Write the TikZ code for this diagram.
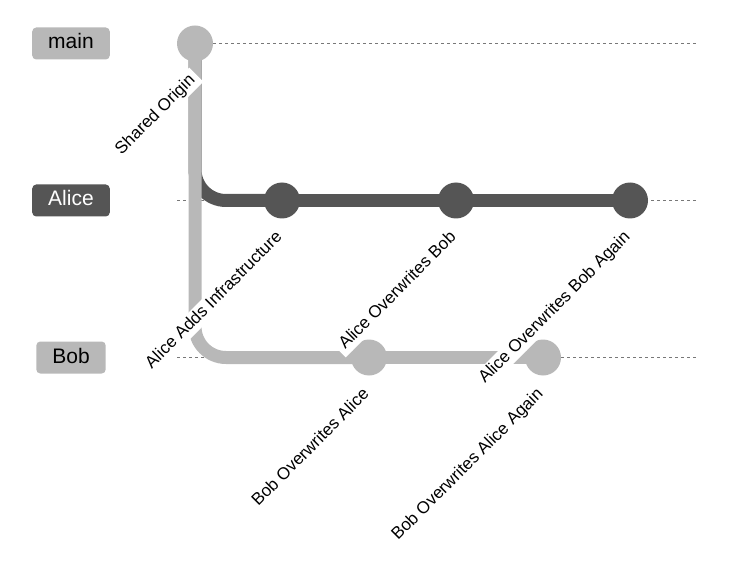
\documentclass[tikz,border=0pt]{standalone}
\usepackage{fontspec}
\setmainfont{Liberation Sans}
\definecolor{lightbranch}{RGB}{184,184,184}
\definecolor{darkbranch}{RGB}{85,85,85}
\definecolor{lanegray}{RGB}{120,120,120}
\pgfdeclarelayer{lanes}
\pgfdeclarelayer{edges}
\pgfsetlayers{lanes,edges,main}
\begin{document}
\begin{tikzpicture}[x=1pt,y=-1pt,
  lane/.style={draw=lanegray,line width=1pt,dash pattern=on 3pt off 3pt},
  branchtag/.style={rounded corners=4pt,minimum height=32pt,inner xsep=16pt,
    inner ysep=0pt,font=\fontsize{21}{25}\selectfont,text height=15pt,text depth=4pt},
  commitdot/.style={circle,minimum size=36pt,inner sep=0pt},
  edge/.style={line width=13pt},
  msg/.style={fill=white,rotate=45,anchor=east,inner xsep=5pt,inner ysep=2pt,
    font=\fontsize{17}{20}\selectfont,text height=12.2pt,text depth=3.6pt}]
\useasboundingbox (0,0) rectangle (730,561);

% branch name tags
\node[branchtag,fill=lightbranch,text=black] (tmain) at (71,43.5) {main};
\node[branchtag,fill=darkbranch,text=white] (talice) at (71,200.5) {Alice};
\node[branchtag,fill=lightbranch,text=black] (tbob) at (71,357.5) {Bob};

% commits
\node[commitdot,fill=lightbranch] (c0) at (195,43.5) {};
\node[commitdot,fill=darkbranch] (a1) at (282,200.5) {};
\node[commitdot,fill=darkbranch] (a2) at (456,200.5) {};
\node[commitdot,fill=darkbranch] (a3) at (630,200.5) {};
\node[commitdot,fill=lightbranch] (b1) at (369,357.5) {};
\node[commitdot,fill=lightbranch] (b2) at (543,357.5) {};

% lane ends
\coordinate (emain) at (697,43.5);
\coordinate (ealice) at (697,200.5);
\coordinate (ebob) at (697,357.5);
\coordinate (smain) at (177,43.5);
\coordinate (salice) at (177,200.5);
\coordinate (sbob) at (177,357.5);

\begin{pgfonlayer}{lanes}
  \draw[lane] (smain) -- (emain);
  \draw[lane] (salice) -- (ealice);
  \draw[lane] (sbob) -- (ebob);
\end{pgfonlayer}

\begin{pgfonlayer}{edges}
  \draw[edge,darkbranch,rounded corners=31pt] (c0.center) |- (a1.center);
  \draw[edge,darkbranch] (a1.center) -- (a2.center) -- (a3.center);
  \draw[edge,lightbranch,rounded corners=31pt] (c0.center) |- (b1.center);
  \draw[edge,lightbranch] (b1.center) -- (b2.center);
\end{pgfonlayer}

% commit messages
\node[msg] (m0) at ([shift={(1.5,31)}]c0.center) {Shared Origin};
\node[msg] (m1) at ([shift={(1.5,31)}]a1.center) {Alice Adds Infrastructure};
\node[msg] (m2) at ([shift={(1.5,31)}]b1.center) {Bob Overwrites Alice};
\node[msg] (m3) at ([shift={(1.5,31)}]a2.center) {Alice Overwrites Bob};
\node[msg] (m4) at ([shift={(1.5,31)}]b2.center) {Bob Overwrites Alice Again};
\node[msg] (m5) at ([shift={(1.5,31)}]a3.center) {Alice Overwrites Bob Again};
\end{tikzpicture}
\end{document}
